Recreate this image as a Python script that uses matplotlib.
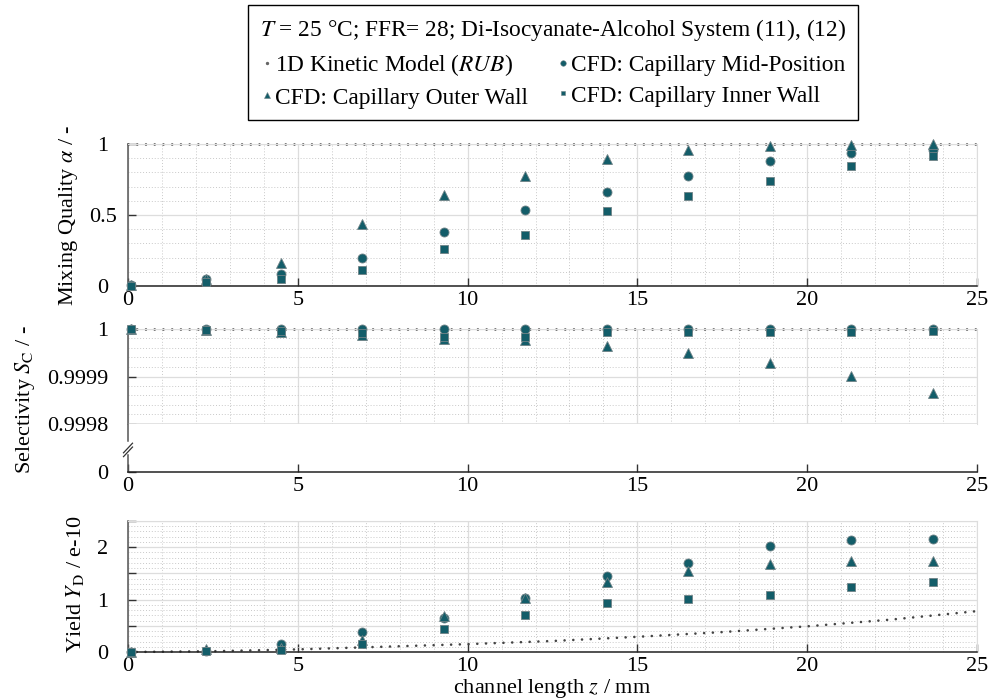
import matplotlib
matplotlib.use("Agg")
import matplotlib.pyplot as plt
from matplotlib.lines import Line2D
from matplotlib.ticker import MultipleLocator, FixedLocator, FuncFormatter

plt.rcParams['font.family'] = 'serif'
plt.rcParams['font.serif'] = ['Liberation Serif', 'DejaVu Serif']
plt.rcParams['mathtext.fontset'] = 'stix'
plt.rcParams['font.size'] = 16

# posiciones CFD a lo largo del capilar (mm)
z_cfd = [0.1, 2.3, 4.5, 6.9, 9.3, 11.7, 14.1, 16.5, 18.9, 21.3, 23.7]

# calidad de mezcla alpha
alpha_mid = [0.01, 0.05, 0.085, 0.20, 0.38, 0.533, 0.66, 0.777, 0.882, 0.934, 0.96]
alpha_outer = [0.01, 0.05, 0.16, 0.437, 0.64, 0.777, 0.894, 0.957, 0.986, 0.995, 0.998]
alpha_inner = [0.0, 0.03, 0.047, 0.113, 0.26, 0.36, 0.526, 0.636, 0.74, 0.847, 0.918]

# selectividad S_C
sel_mid = [1.0, 1.0, 0.999999, 1.0, 1.0, 1.0, 1.0, 1.0, 1.0, 0.999999, 1.0]
sel_outer = [1.0, 0.999997, 0.999994, 0.999987, 0.999978, 0.999977,
             0.999964, 0.999949, 0.999928, 0.999901, 0.999866]
sel_inner = [1.0, 0.999997, 0.999996, 0.999991, 0.999984, 0.999984,
             0.999994, 0.999993, 0.999994, 0.999994, 0.999995]

# rendimiento Y_D (e-10)
yield_mid = [0.0, 0.02, 0.15, 0.38, 0.65, 1.04, 1.45, 1.70, 2.02, 2.14, 2.15]
yield_outer = [0.0, 0.06, 0.07, 0.22, 0.69, 1.03, 1.33, 1.55, 1.67, 1.73, 1.74]
yield_inner = [0.0, 0.02, 0.045, 0.15, 0.43, 0.71, 0.93, 1.01, 1.09, 1.25, 1.34]

# modelo cinético 1D (RUB)
z_kin = [0, 2.5, 5, 7.5, 10, 12.5, 15, 17.5, 20, 22.5, 25]
alpha_kin = [1, 1, 1, 1, 1, 1, 1, 1, 1, 1, 1]
sel_kin = [1, 1, 1, 1, 1, 1, 1, 1, 1, 1, 1]
yield_kin = [0.0, 0.015, 0.05, 0.10, 0.15, 0.21, 0.29, 0.38, 0.49, 0.62, 0.78]

col = '#135d69'
edge = '#6f8286'
grid_major = '#dddddd'
grid_minor = '#c9c9c9'

fig = plt.figure(figsize=(9.9, 6.98), dpi=100)
L, W = 128 / 990, 849 / 990
ax1 = fig.add_axes([L, 1 - 286 / 698, W, 142 / 698])
ax2 = fig.add_axes([L, 1 - 424 / 698, W, 95 / 698])
ax2b = fig.add_axes([L, 1 - 472 / 698, W, 48 / 698])
ax3 = fig.add_axes([L, 1 - 652 / 698, W, 131 / 698])


def estilo(ax, grid=True):
    ax.set_xlim(0, 25)
    ax.xaxis.set_major_locator(MultipleLocator(5))
    ax.xaxis.set_minor_locator(MultipleLocator(1))
    if grid:
        ax.grid(which='major', color=grid_major, lw=0.9, ls='-')
        ax.grid(which='minor', color=grid_minor, lw=0.7, ls=(0, (1, 2)))
        ax.set_axisbelow(True)
        ax.spines['top'].set_color(grid_major)
        ax.spines['right'].set_color(grid_major)
    else:
        ax.spines['top'].set_visible(False)
        ax.spines['right'].set_visible(False)
    ax.spines['left'].set_color('#555555')
    ax.spines['bottom'].set_color('#222222')
    ax.spines['left'].set_linewidth(1.1)
    ax.spines['bottom'].set_linewidth(1.1)
    ax.tick_params(which='major', direction='in', length=6, width=1,
                   color='#333333', top=False, right=False)
    ax.tick_params(axis='x', pad=3.5)
    ax.tick_params(axis='y', pad=14)
    ax.tick_params(which='minor', length=0)


def puntos(ax, zk, yk, ym, yo, yi):
    ax.plot(zk, yk, color='#444444', lw=1.9, ls=(0, (0.01, 3.3)),
            dash_capstyle='round', clip_on=False, zorder=2)
    kw = dict(ls='none', mfc=col, mec=edge, mew=0.6, clip_on=False, zorder=3)
    ax.plot(z_cfd, ym, marker='o', ms=6.5, **kw)
    ax.plot(z_cfd, yo, marker='^', ms=7, **kw)
    ax.plot(z_cfd, yi, marker='s', ms=5.5, **kw)


# panel superior
estilo(ax1)
puntos(ax1, z_kin, alpha_kin, alpha_mid, alpha_outer, alpha_inner)
ax1.set_ylim(0, 1)
ax1.yaxis.set_major_locator(MultipleLocator(0.5))
ax1.yaxis.set_minor_locator(MultipleLocator(0.1))
ax1.yaxis.set_major_formatter(FuncFormatter(lambda v, p: '%g' % v))
ax1.tick_params(axis='y', pad=18)
for t in ax1.get_yticklabels():
    t.set_ha('center')

# panel central (eje cortado)
estilo(ax2)
puntos(ax2, z_kin, sel_kin, sel_mid, sel_outer, sel_inner)
ax2.set_ylim(0.9998, 1.0)
ax2.yaxis.set_major_locator(FixedLocator([0.9998, 0.9999, 1.0]))
ax2.yaxis.set_minor_locator(MultipleLocator(0.00002))
ax2.yaxis.set_major_formatter(FuncFormatter(lambda v, p: '%g' % round(v, 6)))
ax2.spines['bottom'].set_color(grid_major)
ax2.tick_params(axis='x', which='both', bottom=False, labelbottom=False)

estilo(ax2b, grid=False)
ax2b.set_ylim(0, 1)
ax2b.set_yticks([0])
ax2b.spines['left'].set_bounds(0, 0.36)
ax2b.plot([0, 0], [0.64, 1.0], transform=ax2b.transAxes, color='#555555',
          lw=1.1, clip_on=False)
for y0 in (0.42, 0.50):
    ax2b.plot([-0.0053, 0.0053], [y0 - 0.1, y0 + 0.1], transform=ax2b.transAxes,
              color='#333333', lw=0.9, clip_on=False)

# panel inferior
estilo(ax3)
puntos(ax3, z_kin, yield_kin, yield_mid, yield_outer, yield_inner)
ax3.set_ylim(0, 2.5)
ax3.yaxis.set_major_locator(MultipleLocator(0.5))
ax3.yaxis.set_minor_locator(MultipleLocator(0.1))
ax3.yaxis.set_major_formatter(
    FuncFormatter(lambda v, p: '%d' % round(v) if abs(v - round(v)) < 1e-6 else ''))
ax3.set_xlabel(r'channel length $z$ / mm')
ax3.xaxis.set_label_coords(0.5, -0.19)

fig.text(68 / 990, 1 - 215 / 698, r'Mixing Quality $\alpha$ / -',
         rotation=90, ha='center', va='center')
fig.text(25 / 990, 1 - 399 / 698, r'Selectivity $S_\mathrm{C}$ / -',
         rotation=90, ha='center', va='center')
fig.text(75 / 990, 1 - 584 / 698, r'Yield $Y_\mathrm{D}$ / e-10',
         rotation=90, ha='center', va='center')

hkw = dict(ls='none', mfc=col, mec=edge, mew=0.4)
handles = [Line2D([], [], ls='none', marker='o', ms=1.4, color='#666666'),
           Line2D([], [], marker='^', ms=4.5, **hkw),
           Line2D([], [], marker='o', ms=4, **hkw),
           Line2D([], [], marker='s', ms=3.5, **hkw)]
labels = [r'1D Kinetic Model ($\mathit{RUB}$)', 'CFD: Capillary Outer Wall',
          'CFD: Capillary Mid-Position', 'CFD: Capillary Inner Wall']
leg = fig.legend(handles, labels, ncol=2, loc='upper center',
                 bbox_to_anchor=(553 / 990, 1 - 5 / 698), borderaxespad=0,
                 title=r'$T$ = 25 °C; FFR= 28; Di-Isocyanate-Alcohol System (11), (12)',
                 title_fontsize=16.8, fontsize=16.8, fancybox=False, framealpha=1,
                 edgecolor='black', handlelength=0.5, handletextpad=0.1,
                 columnspacing=1.25, borderpad=0.5, labelspacing=0.4)
leg.get_frame().set_linewidth(1.0)

fig.savefig('out.png', dpi=100)
